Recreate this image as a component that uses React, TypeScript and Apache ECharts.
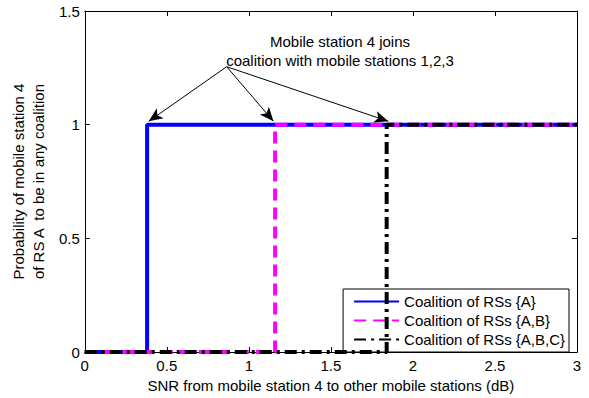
import React, { useEffect, useRef } from "react";
import * as echarts from "echarts";

const xTicks = [0, 0.5, 1, 1.5, 2, 2.5, 3];
const yTicks = [0, 0.5, 1, 1.5];
const seriesNames = ["Coalition of RSs {A}", "Coalition of RSs {A,B}", "Coalition of RSs {A,B,C}"];
const switchPoints = [0.38, 1.16, 1.84];
const lowValue = 0;
const highValue = 1;
const annotationLines = ["Mobile station 4 joins", "coalition with mobile stations 1,2,3"];
const arrowOrigin = [0.865, 1.255];
const arrowTargets = [
  [0.39, 1.015],
  [1.15, 1.015],
  [1.85, 1.015],
];

const FONT = "Liberation Sans, Arial, sans-serif";

export default function App() {
  const ref = useRef<HTMLDivElement>(null);
  useEffect(() => {
    if (!ref.current) return;
    const chart = echarts.init(ref.current, undefined, { renderer: "svg" });
    const colors = ["#0000ff", "#ff00ff", "#000000"];
    const dashTypes: any[] = ["solid", [12, 7], [12, 5, 3, 5]];
    const xMax = xTicks[xTicks.length - 1];
    const series: any[] = seriesNames.map((name, i) => ({
      name,
      type: "line",
      xAxisIndex: 0,
      yAxisIndex: 0,
      symbol: "none",
      showSymbol: false,
      color: colors[i],
      lineStyle: { color: colors[i], width: 4, type: dashTypes[i] },
      data: [
        [xTicks[0], lowValue],
        [switchPoints[i], lowValue],
        [switchPoints[i], highValue],
        [xMax, highValue],
      ],
      z: 2 + i,
    }));
    series.push({
      name: "arrows",
      type: "line",
      data: [],
      symbol: "none",
      z: 10,
      markLine: {
        silent: true,
        symbol: ["none", "arrow"],
        symbolSize: [9, 14],
        label: { show: false },
        lineStyle: { color: "#000", width: 1, type: "solid" },
        data: arrowTargets.map((t) => [{ coord: arrowOrigin }, { coord: t }]),
      },
    });
    const tickStyle = { show: true, inside: true, length: 5, lineStyle: { color: "#000", width: 1 } };
    const lineStyle = { show: true, onZero: false, lineStyle: { color: "#000", width: 1 } };
    chart.setOption({
      animation: false,
      backgroundColor: "#fff",
      textStyle: { fontFamily: FONT },
      grid: { left: 84, right: 12, top: 11, bottom: 41, containLabel: false },
      legend: {
        data: seriesNames,
        orient: "vertical",
        right: 20,
        top: 289,
        itemWidth: 45,
        itemHeight: 14,
        itemGap: 4,
        padding: [5, 4, 5, 10],
        backgroundColor: "#fff",
        borderColor: "#000",
        borderWidth: 1,
        borderRadius: 0,
        itemStyle: { opacity: 0 },
        textStyle: { fontFamily: FONT, fontSize: 15, color: "#000", lineHeight: 15 },
      },
      xAxis: [
        {
          type: "value",
          min: xTicks[0],
          max: xMax,
          interval: 0.5,
          position: "bottom",
          name: "SNR from mobile station 4 to other mobile stations (dB)",
          nameLocation: "middle",
          nameGap: 23,
          nameTextStyle: { fontFamily: FONT, fontSize: 15, color: "#000" },
          axisLine: lineStyle,
          axisTick: tickStyle,
          axisLabel: {
            fontFamily: FONT,
            fontSize: 15,
            color: "#000",
            margin: 6,
            formatter: (v: number) => (xTicks.includes(v) ? String(v) : ""),
          },
          splitLine: { show: false },
        },
        {
          type: "value",
          min: xTicks[0],
          max: xMax,
          interval: 0.5,
          position: "top",
          axisLine: lineStyle,
          axisTick: tickStyle,
          axisLabel: { show: false },
          splitLine: { show: false },
        },
      ],
      yAxis: [
        {
          type: "value",
          min: yTicks[0],
          max: yTicks[yTicks.length - 1],
          interval: 0.5,
          position: "left",
          name: "Probability of mobile station 4\nof RS A  to be in any coalition",
          nameLocation: "middle",
          nameGap: 27,
          nameTextStyle: { fontFamily: FONT, fontSize: 15, color: "#000", lineHeight: 20 },
          axisLine: lineStyle,
          axisTick: tickStyle,
          axisLabel: {
            fontFamily: FONT,
            fontSize: 15,
            color: "#000",
            margin: 5,
            formatter: (v: number) => String(v),
          },
          splitLine: { show: false },
        },
        {
          type: "value",
          min: yTicks[0],
          max: yTicks[yTicks.length - 1],
          interval: 0.5,
          position: "right",
          axisLine: lineStyle,
          axisTick: tickStyle,
          axisLabel: { show: false },
          splitLine: { show: false },
        },
      ],
      graphic: [
        {
          type: "text",
          x: 340,
          y: 41,
          style: {
            text: annotationLines[0],
            fontFamily: FONT,
            fontSize: 15,
            fill: "#000",
            align: "center",
            verticalAlign: "middle",
          },
        },
        {
          type: "text",
          x: 340,
          y: 60,
          style: {
            text: annotationLines[1],
            fontFamily: FONT,
            fontSize: 15,
            fill: "#000",
            align: "center",
            verticalAlign: "middle",
          },
        },
      ],
      series,
    });
    return () => chart.dispose();
  }, []);
  return (
    <div
      ref={ref}
      style={{ position: "fixed", left: 0, top: 0, width: 589, height: 398, background: "#fff" }}
    />
  );
}
